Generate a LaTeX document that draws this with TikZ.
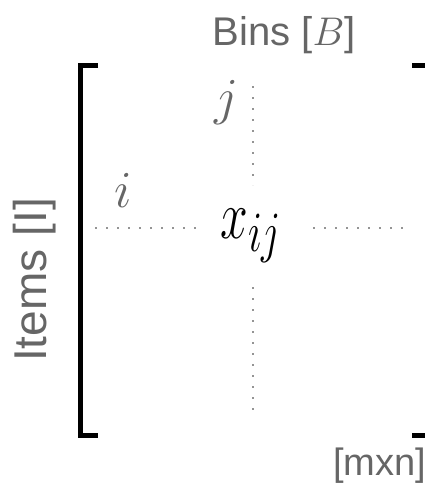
\documentclass[tikz,border=0pt]{standalone}
\usepackage{fontspec}
\setsansfont{Liberation Sans}
\usepackage{amsmath}
\usepackage{xcolor}
\usepackage{tikz}
\usetikzlibrary{calc}

\definecolor{lbl}{HTML}{666666}

\begin{document}
\begin{tikzpicture}[x=1pt,y=-1pt,
   lb/.style={text=lbl,inner sep=0pt,font=\sffamily\Huge},
   idx/.style={text=lbl,inner sep=0pt,font=\Huge,scale=2.09},
   dots/.style={draw=lbl!70,line width=2pt,dash pattern=on 2pt off 9pt},
   brk/.style={draw=black,line width=5pt}]
  \useasboundingbox (0,0) rectangle (425,483);
  \node[lb,scale=1.61] (bins) at (284,35) {Bins [$B$]};
  \node[lb,rotate=90,scale=1.85] (items) at (35,280) {Items [I]};
  \node[lb,scale=1.53,anchor=base west] (dim) at (333,475) {[mxn]};
  \node[idx] (i) at (123,190) {$i$};
  \node[idx] (j) at (226,103) {$j$};
  \node[inner sep=0pt,anchor=base west,font=\Huge,xscale=2.0,yscale=2.75] (x) at (220,238) {$x_{ij}$};
  % dotted guides
  \coordinate (hl) at (95,228);  \coordinate (hm1) at (200,228);
  \coordinate (hm2) at (313,228); \coordinate (hr) at (410,228);
  \coordinate (vt) at (253,86);  \coordinate (vm1) at (253,185);
  \coordinate (vm2) at (253,287); \coordinate (vb) at (253,415);
  \draw[dots] (hl) -- (hm1);
  \draw[dots] (hm2) -- (hr);
  \draw[dots] (vt) -- (vm1);
  \draw[dots] (vm2) -- (vb);
  % matrix brackets
  \draw[brk] (98,65) -- (80,65) -- (80,435) -- (98,435);
  \draw[brk] (412,65) -- (428,65) -- (428,435) -- (412,435);
\end{tikzpicture}
\end{document}
